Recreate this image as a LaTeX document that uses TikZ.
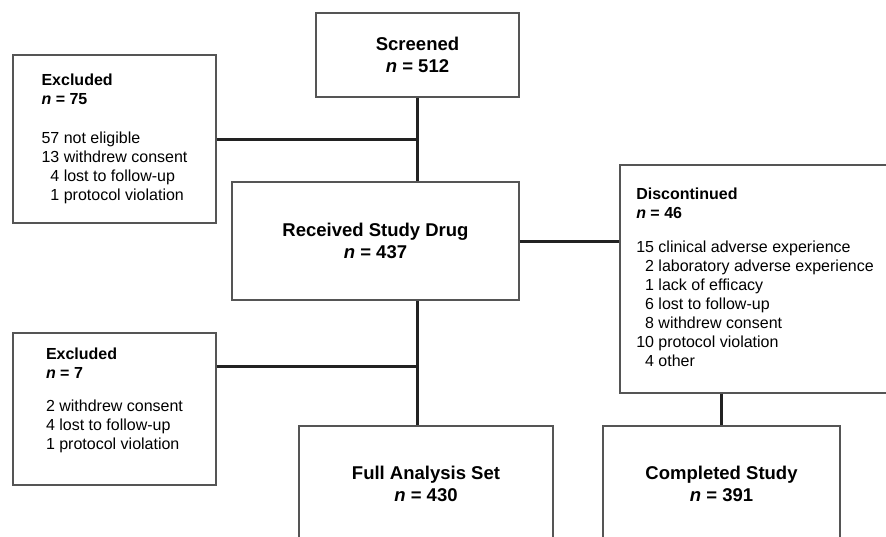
\documentclass[tikz,border=0pt]{standalone}
\usepackage{fontspec}
\setmainfont{Liberation Sans}
\usepackage{tikz}
\usetikzlibrary{positioning}
\usepackage{xcolor}

\definecolor{boxgray}{HTML}{555555}
\definecolor{linkgray}{HTML}{222222}

\newcommand{\ncount}[1]{\textbf{\textit{n} = #1}}

\tikzset{
  box/.style={draw=boxgray, line width=1.2pt, fill=white, inner sep=0pt},
  mainbox/.style={box, align=center, font=\fontsize{18.5}{22.5}\selectfont\bfseries},
  sidebox/.style={box, font=\fontsize{16}{19}\selectfont},
  link/.style={draw=linkgray, line width=3pt}
}

\begin{document}
\begin{tikzpicture}[x=1pt,y=-1pt]
        \useasboundingbox (0,0) rectangle (886,536);
        \clip (0,0) rectangle (886,536);

        % main column
        \node[mainbox, minimum width=203pt, minimum height=84pt] (screened) at (417.5,55) {Screened\\\textit{n} = 512};
        \node[mainbox, minimum width=287pt, minimum height=118pt] (received) at (375.5,241) {Received Study Drug\\\textit{n} = 437};
        \node[mainbox, minimum width=254pt, minimum height=116pt] (fas) at (426,484) {Full Analysis Set\\\textit{n} = 430};
        \node[mainbox, minimum width=237pt, minimum height=116pt] (completed) at (721.5,484) {Completed Study\\\textit{n} = 391};

        % side boxes
        \node[sidebox, minimum width=203pt, minimum height=168pt] (excl1) at (114.5,139) {%
            \begin{tabular}{@{}r@{\ }l@{}}
            \multicolumn{2}{@{}l@{}}{\textbf{Excluded}}\\
            \multicolumn{2}{@{}l@{}}{\ncount{75}}\\[20pt]
            57 & not eligible\\
            13 & withdrew consent\\
            4 & lost to follow-up\\
            1 & protocol violation
            \end{tabular}};
        \node[sidebox, minimum width=203pt, minimum height=152pt] (excl2) at (114.5,409) {%
            \begin{tabular}{@{}r@{\ }l@{}}
            \multicolumn{2}{@{}l@{}}{\textbf{Excluded}}\\
            \multicolumn{2}{@{}l@{}}{\ncount{7}}\\[14pt]
            2 & withdrew consent\\
            4 & lost to follow-up\\
            1 & protocol violation\\[16pt]
            \end{tabular}};
        \node[sidebox, minimum width=270pt, minimum height=228pt] (disc) at (755,279) {%
            \begin{tabular}{@{}r@{\ }l@{}}
            \multicolumn{2}{@{}l@{}}{\textbf{Discontinued}}\\
            \multicolumn{2}{@{}l@{}}{\ncount{46}}\\[15pt]
            15 & clinical adverse experience\\
            2 & laboratory adverse experience\\
            1 & lack of efficacy\\
            6 & lost to follow-up\\
            8 & withdrew consent\\
            10 & protocol violation\\
            4 & other
            \end{tabular}};

        % connectors
        \draw[link] (screened.south) -- (screened.south |- received.north);
        \draw[link] (excl1.east) -- (excl1.east -| screened.south);
        \draw[link] (received.south -| screened.south) -- (fas.north -| screened.south);
        \draw[link] ([yshift=-34pt]excl2.north east) -- ([yshift=-34pt]excl2.north east -| screened.south);
        \draw[link] (received.east) -- (received.east -| disc.west);
        \draw[link] (completed.north |- disc.south) -- (completed.north);
    \end{tikzpicture}
\end{document}
